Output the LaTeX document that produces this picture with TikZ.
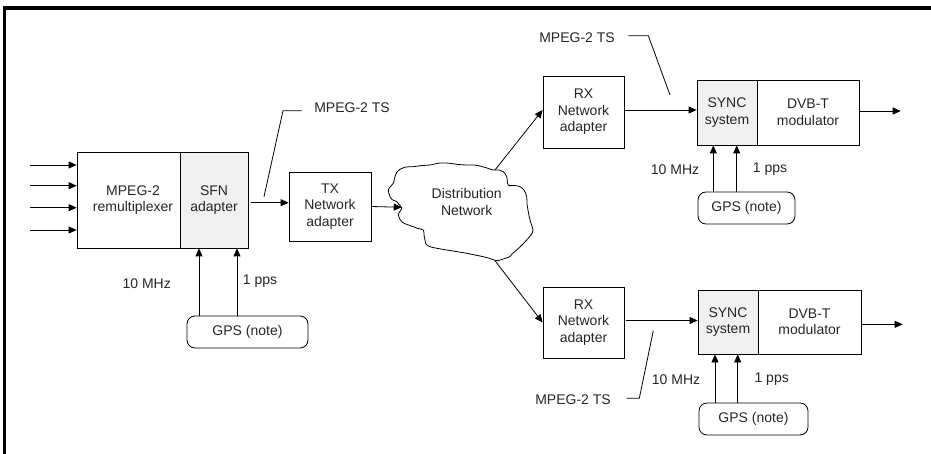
\documentclass[tikz,border=0pt]{standalone}
\usepackage{fontspec}
\setmainfont{Liberation Sans}
\usetikzlibrary{arrows.meta,calc}
\begin{document}
\begin{tikzpicture}[x=1pt,y=-1pt,
  every node/.style={font=\fontsize{14}{16.5}\selectfont, text=black!85},
  box/.style={draw, line width=0.8pt, align=center, inner sep=0pt},
  gbox/.style={box, fill=black!6},
  gpsbox/.style={draw, line width=0.8pt, rounded corners=8pt, inner sep=0pt},
  lbl/.style={inner sep=0pt},
  arr/.style={line width=0.8pt, -{Triangle[length=8pt,width=7pt]}},
  lead/.style={line width=0.8pt}]
\useasboundingbox (0,0) rectangle (931,454);
% frame
\draw[line width=3.5pt, line join=miter] (4.5,454) -- (4.5,8) -- (931,8);

% left chain
\node[box, minimum width=103pt, minimum height=96pt] (remux) at (128.5,200) {};
\node[lbl, align=center] (remuxtext) at (133,200) {MPEG-2\\remultiplexer};
\node[gbox, minimum width=68pt, minimum height=96pt] (sfn) at (214,200) {SFN\\adapter};
\node[gpsbox, minimum width=121pt, minimum height=32pt] (gps0) at (247.5,332) {GPS (note)};
\node[box, minimum width=82pt, minimum height=69pt] (tx) at (330,206.5) {TX\\Network\\adapter};

% inputs
\foreach \i/\yy in {0/165,1/185.7,2/207.7,3/230}{
  \coordinate (in\i) at (30,\yy);
  \draw[arr] (in\i) -- (in\i -| remux.west);
}
\draw[arr] ([xshift=-48.5pt]gps0.north) -- ([xshift=-48.5pt]gps0.north |- sfn.south);
\draw[arr] ([xshift=-10.5pt]gps0.north) -- ([xshift=-10.5pt]gps0.north |- sfn.south);
\node[lbl] (l10a) at (146.7,284) {10 MHz};
\node[lbl] (l1a) at (260,281) {1 pps};

\draw[arr] ([xshift=3pt,yshift=-2.7pt]sfn.east) -- ([yshift=-2.7pt]sfn.east -| tx.west);
\coordinate (ld1a) at (264,196.7);
\coordinate (ld1b) at (283,110.7);
\coordinate (ld1c) at (301.7,110.7);
\draw[lead] (ld1a) -- (ld1b) -- (ld1c);
\node[lbl] (ts1) at (352,108) {MPEG-2 TS};

% cloud
\draw[line width=0.8pt] plot[smooth cycle, tension=0.55] coordinates {
 (400,169.3) (406,167) (413.3,166.7) (422,165.5) (430,165) (440,163) (450,163.3) (458,164.5) (466.7,165)
 (474,165) (480,166) (487,168) (493.3,170) (499,170) (503.3,171.7) (506.7,176.7) (508.3,185)
 (515,185.5) (520,186.7) (524,190) (526.7,196.7) (527,204) (528.3,211.7) (530,220) (533,230)
 (531,235) (526.7,240) (522,245) (516.7,250) (512,254) (510,256.7) (503,259) (496.7,260.7)
 (490,258.5) (483.3,256.7) (475,255) (466.7,253.3) (456,251.5) (446.7,250) (438,248.5) (430,246.7)
 (426,244) (425,240) (424,235) (423.3,230) (418,228.5) (413.3,226.7) (407,224.5) (401.7,221.7)
 (398.3,215) (401.7,208.3) (399,204.5) (396.7,201.7) (392,199.5) (390,196.7) (388.3,190)
 (391,186) (393.3,183.3) (395,176.7) (397,172)};
\node[lbl, align=center] (cloud) at (466.7,202) {Distribution\\Network};
\coordinate (cin) at (401.7,207.3);
\coordinate (cup) at (495,170);
\coordinate (cdn) at (495,260.7);
\draw[arr] (tx.east) -- (cin);

% top branch
\node[box, minimum width=81pt, minimum height=72pt] (rx1) at (583.5,112) {RX\\Network\\adapter};
\node[gbox, minimum width=60pt, minimum height=65pt] (sync1) at (727,112.5) {SYNC\\system};
\node[box, minimum width=102pt, minimum height=65pt] (dvb1) at (808,112.5) {DVB-T\\modulator};
\node[gpsbox, minimum width=97pt, minimum height=32pt] (gps1) at (746.5,208) {GPS (note)};
\coordinate (out1) at (900.7,111);
\draw[arr] (cup) -- ([yshift=2pt]rx1.west);
\draw[arr] ([yshift=2pt]rx1.east) -- ([yshift=2pt]rx1.east -| sync1.west);
\draw[arr] (dvb1.east |- out1) -- (out1);
\draw[arr] ([xshift=-33.2pt]gps1.north) -- ([xshift=-33.2pt]gps1.north |- sync1.south);
\draw[arr] ([xshift=-9.8pt]gps1.north) -- ([xshift=-9.8pt]gps1.north |- sync1.south);
\node[lbl] (l10b) at (675,169.3) {10 MHz};
\node[lbl] (l1b) at (770,169.3) {1 pps};
\coordinate (ld2a) at (670,95);
\coordinate (ld2b) at (648.3,35.7);
\coordinate (ld2c) at (628.3,35.7);
\draw[lead] (ld2a) -- (ld2b) -- (ld2c);
\node[lbl] (ts2) at (577,37.3) {MPEG-2 TS};

% bottom branch
\node[box, minimum width=81pt, minimum height=71pt] (rx2) at (583.5,322.5) {RX\\Network\\adapter};
\node[gbox, minimum width=60pt, minimum height=64pt] (sync2) at (728,322) {SYNC\\system};
\node[box, minimum width=103pt, minimum height=64pt] (dvb2) at (809.5,322) {DVB-T\\modulator};
\node[gpsbox, minimum width=109pt, minimum height=32pt] (gps2) at (753.5,419) {GPS (note)};
\coordinate (out2) at (902.7,324.3);
\draw[arr] (cdn) -- (rx2.west);
\draw[arr] ([xshift=2pt,yshift=2pt]rx2.east) -- ([yshift=2pt]rx2.east -| sync2.west);
\draw[arr] (dvb2.east |- out2) -- (out2);
\draw[arr] ([xshift=-38.5pt]gps2.north) -- ([xshift=-38.5pt]gps2.north |- sync2.south);
\draw[arr] ([xshift=-15.8pt]gps2.north) -- ([xshift=-15.8pt]gps2.north |- sync2.south);
\node[lbl] (l10c) at (676,379.3) {10 MHz};
\node[lbl] (l1c) at (771.7,379) {1 pps};
\coordinate (ld3a) at (653.3,330.7);
\coordinate (ld3b) at (639.3,398.3);
\coordinate (ld3c) at (626.7,398.3);
\draw[lead] (ld3a) -- (ld3b) -- (ld3c);
\node[lbl] (ts3) at (573,399.3) {MPEG-2 TS};
\end{tikzpicture}
\end{document}
